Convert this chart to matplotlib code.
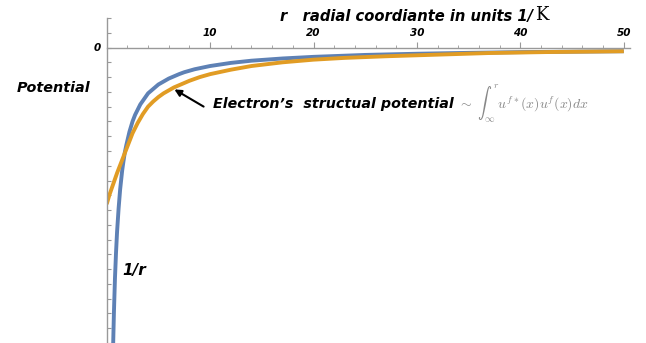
import matplotlib
matplotlib.use("Agg")
import matplotlib.pyplot as plt
from matplotlib.ticker import MultipleLocator, FixedLocator

plt.rcParams["mathtext.fontset"] = "cm"

# radial coordinate samples and the two potentials (read in plot units)
r_coulomb = [0.6, 0.7, 0.8, 0.9, 1.0, 1.15, 1.3, 1.5, 1.6, 1.75, 1.9, 2.0, 2.2,
             2.5, 2.75, 3.0, 3.25, 3.5, 4.0, 4.5, 5.0, 5.5, 6.0, 7.0, 7.5, 8.5,
             10, 12, 14, 17, 20, 25, 30, 35, 40, 45, 50]
v_coulomb = [-2.08, -1.79, -1.56, -1.39, -1.25, -1.09, -0.96, -0.83, -0.78,
             -0.71, -0.66, -0.63, -0.57, -0.50, -0.455, -0.42, -0.385, -0.36,
             -0.31, -0.28, -0.25, -0.23, -0.21, -0.18, -0.167, -0.147, -0.125,
             -0.104, -0.089, -0.074, -0.063, -0.050, -0.042, -0.036, -0.031,
             -0.028, -0.025]

r_struct = [0, 0.25, 0.5, 0.75, 1.0, 1.25, 1.5, 1.75, 2.0, 2.25, 2.5, 2.75,
            3.0, 3.25, 3.5, 3.75, 4.0, 4.5, 5, 5.5, 6, 6.5, 7, 7.5, 8, 9, 10,
            12, 14, 17, 20, 23, 27, 32, 37, 43, 50]
v_struct = [-1.06, -1.0, -0.95, -0.90, -0.85, -0.805, -0.76, -0.715, -0.67,
            -0.625, -0.58, -0.545, -0.51, -0.48, -0.45, -0.425, -0.40, -0.365,
            -0.335, -0.31, -0.29, -0.27, -0.255, -0.24, -0.225, -0.20, -0.18,
            -0.15, -0.125, -0.10, -0.082, -0.07, -0.059, -0.048, -0.037,
            -0.03, -0.025]

x_ticks = [10, 20, 30, 40, 50]

W, H = 646, 343
fig = plt.figure(figsize=(W / 100, H / 100), dpi=100)
ax = fig.add_axes([106.7 / W, 0, (630 - 106.7) / W, 325 / H])

ax.plot(r_coulomb, v_coulomb, color="#5E81B5", lw=2.8, solid_capstyle="butt",
        solid_joinstyle="round")
ax.plot(r_struct, v_struct, color="#E19C24", lw=2.8, solid_capstyle="butt",
        solid_joinstyle="round")

ax.set_xlim(0, 50.6)
ax.set_ylim(-2.0, 0.2)

# axes cross at the origin
for s in ["top", "right"]:
    ax.spines[s].set_visible(False)
ax.spines["bottom"].set_position(("data", 0))
ax.spines["left"].set_position(("data", 0))
for s in ["bottom", "left"]:
    ax.spines[s].set_color("#999999")
    ax.spines[s].set_linewidth(1.0)

ax.xaxis.set_major_locator(FixedLocator(x_ticks))
ax.xaxis.set_minor_locator(MultipleLocator(2))
ax.xaxis.set_ticks_position("bottom")
ax.tick_params(axis="x", which="major", direction="in", length=4, width=0.8,
               color="#999999", pad=-14, labelsize=7.5)
ax.tick_params(axis="x", which="minor", direction="in", length=2.5, width=0.6,
               color="#999999")
ax.tick_params(axis="x", which="both", top=False)
for lbl in ax.get_xticklabels():
    lbl.set_fontstyle("italic")
    lbl.set_fontweight("bold")

ax.yaxis.set_major_locator(MultipleLocator(0.1))
ax.set_yticklabels([])
ax.tick_params(axis="y", which="major", direction="in", length=3, width=0.8,
               color="#999999")
fig.text(97 / W, 1 - 48 / H, "0", fontsize=7.5, fontstyle="italic",
         fontweight="bold", ha="center", va="center")

bold = dict(fontstyle="italic", fontweight="bold", color="black")


def px(x, y):
    return x / W, 1 - y / H


fig.text(*px(280, 17), "r   radial coordiante in units 1/", fontsize=10.6,
         ha="left", va="center", **bold)
fig.text(*px(535, 15), "K", fontsize=13, family="DejaVu Serif",
         ha="left", va="center")
fig.text(*px(17, 88), "Potential", fontsize=10.4, ha="left", va="center", **bold)
fig.text(*px(213, 104), "Electron\u2019s  structual potential", fontsize=10.3,
         ha="left", va="center", **bold)
fig.text(*px(458, 104), r"$\sim\ \int_{\infty}^{r} u^{f*}(x)u^{f}(x)dx$",
         fontsize=10, color="#888888", ha="left", va="center")
fig.text(*px(122, 270), "1/r", fontsize=11, ha="left", va="center", **bold)

fig.add_artist(matplotlib.patches.FancyArrowPatch(
    px(206, 108), px(172, 88), transform=fig.transFigure,
    arrowstyle="-|>", mutation_scale=10, lw=1.5, color="black"))

fig.savefig("out.png", dpi=100)
